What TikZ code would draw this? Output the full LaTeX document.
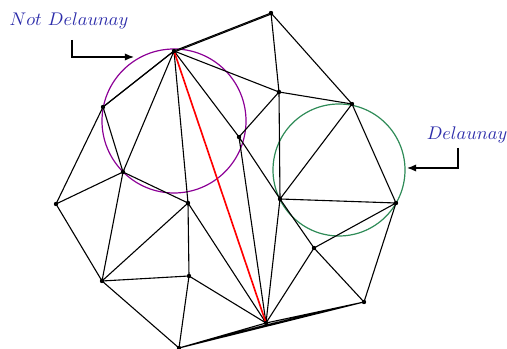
\documentclass[tikz,border=0pt]{standalone}
\usetikzlibrary{arrows.meta}
\definecolor{lblblue}{RGB}{45,45,170}
\definecolor{circpurple}{RGB}{140,0,150}
\definecolor{circgreen}{RGB}{46,139,87}
\tikzset{
  vtx/.style={circle,fill=black,inner sep=0pt,minimum size=2.4pt},
  edge/.style={black,line width=0.6pt},
  bad/.style={red,line width=0.9pt},
  lbl/.style={text=lblblue,inner sep=0pt},
  pointer/.style={black,line width=0.7pt,-{Latex[length=5pt,width=4pt]}}
}
\begin{document}
\begin{tikzpicture}[x=0.546pt,y=-0.546pt]
\useasboundingbox (0,0) rectangle (507,349);
% vertices
\coordinate (A) at (174,51);
\coordinate (B) at (271,13);
\coordinate (C) at (103,107);
\coordinate (D) at (279,92);
\coordinate (E) at (352,104);
\coordinate (F) at (239,137);
\coordinate (G) at (123,172);
\coordinate (H) at (56,204);
\coordinate (I) at (188,203);
\coordinate (J) at (280,199);
\coordinate (K) at (396,203);
\coordinate (L) at (314,248);
\coordinate (M) at (102,281);
\coordinate (N) at (189,276);
\coordinate (O) at (266,323);
\coordinate (P) at (364,302);
\coordinate (Q) at (179,348);
\coordinate (O2) at (266,325);
% circles
\draw[circpurple,line width=0.65pt] (174,121) circle[radius=72];
\draw[circgreen,line width=0.65pt] (339,170) circle[radius=66];
% edges
\draw[edge] (A)--(B) (A)--(C) (A)--(D) (A)--(F) (A)--(G) (A)--(I)
  (B)--(D) (B)--(E) (C)--(G) (C)--(H) (D)--(E) (D)--(F) (D)--(J)
  (E)--(J) (E)--(K) (F)--(J) (F)--(O) (G)--(H) (G)--(I) (G)--(M)
  (H)--(M) (I)--(M) (I)--(N) (I)--(O) (M)--(N) (M)--(Q) (N)--(O)
  (N)--(Q) (Q)--(O) (Q)--(O2) (Q)--(P) (O)--(P) (O2)--(P)
  (J)--(K) (J)--(L) (J)--(O) (K)--(L) (K)--(P) (L)--(O) (L)--(P);
\draw[edge] ([yshift=-0.6pt]A)--([yshift=-0.6pt]B);
\draw[edge] ([xshift=-0.4pt,yshift=-0.3pt]A)--([xshift=-0.4pt,yshift=-0.3pt]C);
\draw[bad] (A)--(O);
% dots
\foreach \v in {A,B,C,D,E,F,G,H,I,J,K,L,M,N,O,P,Q}
  \node[vtx] (d\v) at (\v) {};
% labels and pointers
\node[lbl] (nd) at (69,21) {$Not\ Delaunay$};
\node[lbl] (dl) at (467,135) {$Delaunay$};
\coordinate (nds) at (72,40);
\coordinate (ndc) at (72,57);
\coordinate (ndt) at (134,57);
\coordinate (dls) at (458,148);
\coordinate (dlc) at (458,168);
\coordinate (dlt) at (407,168);
\draw[pointer] (nds)--(ndc)--(ndt);
\draw[pointer] (dls)--(dlc)--(dlt);
\end{tikzpicture}
\end{document}
